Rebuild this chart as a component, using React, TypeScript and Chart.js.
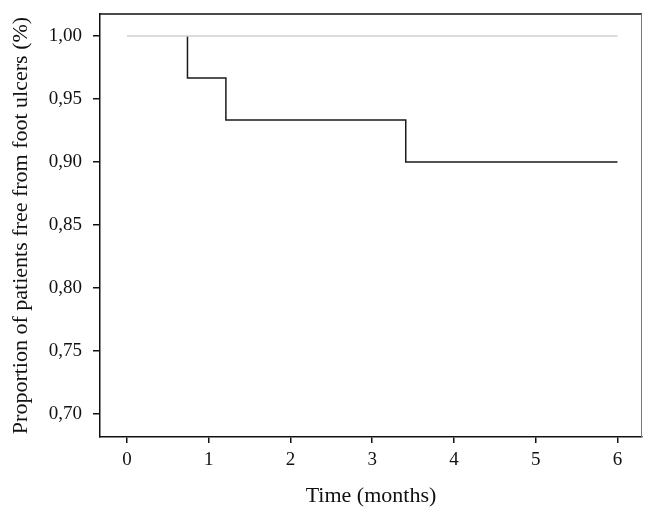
import React, { useEffect, useRef } from "react";
import { Chart, registerables } from "chart.js";

Chart.register(...registerables);

const eventTimes = [0.74, 1.21, 3.41];
const survivalAfter = [0.9667, 0.9333, 0.9];
const followUpEnd = 6;
const referenceLevel = 1.0;
const xTicks = [0, 1, 2, 3, 4, 5, 6];
const yTicks = [0.7, 0.75, 0.8, 0.85, 0.9, 0.95, 1.0];

const FONT = "'Liberation Serif', 'DejaVu Serif', serif";

export default function App() {
  const ref = useRef<HTMLCanvasElement>(null);
  useEffect(() => {
    if (!ref.current) return;
    const km: { x: number; y: number }[] = [{ x: eventTimes[0], y: referenceLevel }];
    eventTimes.forEach((t, i) => km.push({ x: t, y: survivalAfter[i] }));
    km.push({ x: followUpEnd, y: survivalAfter[survivalAfter.length - 1] });

    const frame = {
      id: "frame",
      afterDraw(chart: any) {
        const { ctx, chartArea: a } = chart;
        ctx.save();
        ctx.strokeStyle = "#111";
        ctx.lineWidth = 1.5;
        ctx.beginPath();
        ctx.moveTo(a.left, a.top);
        ctx.lineTo(a.right, a.top);
        ctx.stroke();
        ctx.strokeStyle = "#777";
        ctx.lineWidth = 1;
        ctx.beginPath();
        ctx.moveTo(a.right - 0.5, a.top);
        ctx.lineTo(a.right - 0.5, a.bottom);
        ctx.stroke();
        ctx.restore();
      },
    };

    const chart = new Chart(ref.current, {
      type: "scatter",
      data: {
        datasets: [
          {
            data: [
              { x: 0, y: referenceLevel },
              { x: followUpEnd, y: referenceLevel },
            ],
            showLine: true,
            borderColor: "#cfcfcf",
            borderWidth: 1.5,
            pointRadius: 0,
          },
          {
            data: km,
            showLine: true,
            stepped: "before",
            borderColor: "#1a1a1a",
            borderWidth: 1.5,
            pointRadius: 0,
          },
        ],
      },
      plugins: [frame],
      options: {
        animation: false,
        responsive: false,
        events: [],
        layout: { padding: { left: 0, top: 14, right: 15, bottom: 0 } },
        plugins: { legend: { display: false }, tooltip: { enabled: false } },
        scales: {
          x: {
            type: "linear",
            min: -0.33,
            max: 6.3,
            afterBuildTicks: (s: any) => {
              s.ticks = xTicks.map((v) => ({ value: v }));
            },
            afterFit: (s: any) => {
              s.height = 82;
              s.paddingLeft = 0;
              s.paddingRight = 0;
            },
            grid: { drawOnChartArea: false, drawTicks: true, tickLength: 6, color: "#111", lineWidth: 1.5 },
            border: { display: true, color: "#111", width: 1.5 },
            ticks: {
              color: "#111",
              font: { family: FONT, size: 19 },
              padding: 6,
              maxRotation: 0,
              callback: (v: any) => String(v),
            },
            title: {
              display: true,
              text: "Time (months)",
              color: "#111",
              font: { family: FONT, size: 22 },
              padding: { top: 4, bottom: 10 },
            },
          },
          y: {
            type: "linear",
            min: 0.6817,
            max: 1.0175,
            afterBuildTicks: (s: any) => {
              s.ticks = yTicks.map((v) => ({ value: v }));
            },
            afterFit: (s: any) => {
              s.width = 100;
              s.paddingTop = 0;
              s.paddingBottom = 0;
            },
            grid: { drawOnChartArea: false, drawTicks: true, tickLength: 7, color: "#111", lineWidth: 1.5 },
            border: { display: true, color: "#111", width: 1.5 },
            ticks: {
              color: "#111",
              font: { family: FONT, size: 19 },
              padding: 11,
              callback: (v: any) => Number(v).toFixed(2).replace(".", ","),
            },
            title: {
              display: true,
              text: "Proportion of patients free from foot ulcers (%)",
              color: "#111",
              font: { family: FONT, size: 22 },
              padding: { top: 8, bottom: 0 },
            },
          },
        },
      },
    });
    return () => chart.destroy();
  }, []);
  return (
    <div style={{ position: "fixed", left: 0, top: 0, width: 657, height: 519, background: "#fff" }}>
      <canvas ref={ref} width={657} height={519} style={{ width: 657, height: 519 }} />
    </div>
  );
}
